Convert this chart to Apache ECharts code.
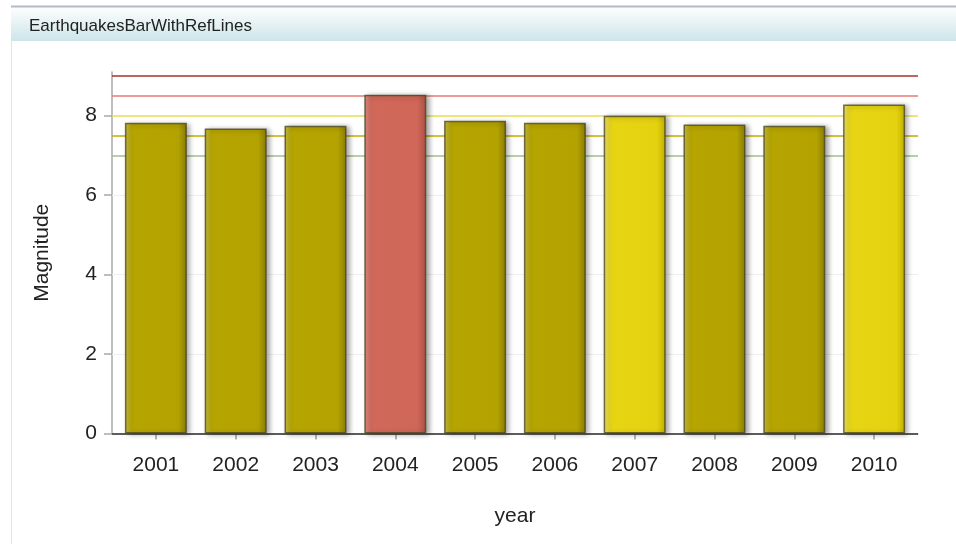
<!DOCTYPE html>
<html>
<head>
<meta charset="utf-8">
<script src="https://cdn.jsdelivr.net/npm/echarts@6/dist/echarts.min.js"></script>
<style>
html,body{margin:0;padding:0;background:#fff;}
#chart{width:956px;height:544px;}
</style>
</head>
<body>
<div id="chart"></div>
<script>
const titleText = 'EarthquakesBarWithRefLines';
const years = ['2001','2002','2003','2004','2005','2006','2007','2008','2009','2010'];
const magnitudes = [7.82, 7.68, 7.75, 8.53, 7.87, 7.82, 8.0, 7.78, 7.75, 8.28];
const yTicks = [0, 2, 4, 6, 8];
const refValues = [9, 8.5, 8, 7.5, 7];
const refColors = ['#a53232', '#e77b74', '#e9dc55', '#c2ae00', '#9fc08c'];
const yMin = 0, yMax = 9.1;

const FONT = "'Liberation Sans', Arial, sans-serif";

function grad(c0, c1, c2, c3) {
  return new echarts.graphic.LinearGradient(0, 0, 1, 0, [
    {offset: 0, color: c0}, {offset: 0.12, color: c1},
    {offset: 0.86, color: c2}, {offset: 1, color: c3}
  ]);
}
function barStyle(v) {
  let fill;
  if (v >= 8.5) fill = grad('#e28f82', '#d1695b', '#cf6658', '#ad5145');
  else if (v >= 8) fill = grad('#efe26a', '#e7d514', '#e4d210', '#c1b000');
  else fill = grad('#cbbe40', '#b6a500', '#b3a200', '#8a7d00');
  return {
    color: fill,
    borderColor: 'rgba(70,66,30,0.75)',
    borderWidth: 1.5,
    shadowColor: 'rgba(0,0,0,0.35)',
    shadowBlur: 5,
    shadowOffsetX: 3,
    shadowOffsetY: 1
  };
}

const chart = echarts.init(document.getElementById('chart'), null, {renderer: 'canvas'});
const option = {
  animation: false,
  backgroundColor: '#ffffff',
  textStyle: {fontFamily: FONT},
  graphic: [
    {type: 'rect', shape: {x: 11, y: 7, width: 945, height: 34}, silent: true,
     style: {fill: new echarts.graphic.LinearGradient(0, 0, 0, 1, [
       {offset: 0, color: '#fefefe'}, {offset: 1, color: '#cce5ea'}])}},
    {type: 'line', shape: {x1: 11, y1: 6.5, x2: 956, y2: 6.5}, silent: true,
     style: {stroke: '#b4b8cb', lineWidth: 2}},
    {type: 'line', shape: {x1: 11.5, y1: 41, x2: 11.5, y2: 544}, silent: true,
     style: {stroke: '#e6e6e6', lineWidth: 1}},
    {type: 'text', x: 29, y: 26, silent: true,
     style: {text: titleText, fill: '#222', font: '17px ' + FONT, verticalAlign: 'middle'}}
  ],
  grid: [
    {left: 116, right: 42, top: 72, bottom: 110.5, containLabel: false},
    {left: 112, right: 38, top: 72, bottom: 110.5, containLabel: false}
  ],
  xAxis: [
    {type: 'category', gridIndex: 0, data: years, offset: 4,
     axisLine: {show: false},
     axisTick: {show: true, alignWithLabel: true, length: 6, lineStyle: {color: '#a0a0a0', width: 1.5}},
     axisLabel: {color: '#222', fontSize: 21, margin: 17, fontFamily: FONT},
     name: 'year', nameLocation: 'middle', nameGap: 68,
     nameTextStyle: {color: '#222', fontSize: 21, fontFamily: FONT}},
    {type: 'value', gridIndex: 1, min: 0, max: 1, offset: 3,
     axisLine: {show: true, lineStyle: {color: '#b0b0b0', width: 1.5}},
     axisTick: {show: false}, axisLabel: {show: false}, splitLine: {show: false}}
  ],
  yAxis: [
    {type: 'value', gridIndex: 0, min: yMin, max: yMax, show: false, splitLine: {show: false}},
    {type: 'value', gridIndex: 1, min: yMin, max: yMax,
     axisLine: {show: true, lineStyle: {color: '#a8a8a8', width: 1.5}},
     axisTick: {show: true, length: 8, customValues: yTicks, lineStyle: {color: '#a8a8a8', width: 1.5}},
     axisLabel: {color: '#222', fontSize: 21, margin: 15, fontFamily: FONT, customValues: yTicks},
     splitLine: {show: false},
     name: 'Magnitude', nameLocation: 'middle', nameGap: 59,
     nameTextStyle: {color: '#222', fontSize: 21, fontFamily: FONT}}
  ],
  series: [
    {type: 'line', xAxisIndex: 1, yAxisIndex: 1, data: [], z: 1, silent: true,
     markLine: {silent: true, symbol: 'none', label: {show: false},
       data: yTicks.filter(t => t > 0 && t < 8).map(t => ({yAxis: t, lineStyle: {color: '#efefef', width: 1, type: 'solid'}}))}},
    {type: 'line', xAxisIndex: 1, yAxisIndex: 1, data: [], z: 2, silent: true,
     markLine: {silent: true, symbol: 'none', label: {show: false},
       data: refValues.map((v, i) => ({yAxis: v, lineStyle: {color: refColors[i], width: 1.6, type: 'solid'}}))}},
    {type: 'bar', xAxisIndex: 0, yAxisIndex: 0, z: 5, barWidth: 62,
     data: magnitudes.map(v => ({value: v, itemStyle: barStyle(v)}))},
    {type: 'line', xAxisIndex: 1, yAxisIndex: 1, data: [], z: 8, silent: true,
     markLine: {silent: true, symbol: 'none', label: {show: false},
       data: [{yAxis: 0, lineStyle: {color: '#3a3a3a', width: 1.5, type: 'solid'}}]}}
  ]
};
chart.setOption(option);
</script>
</body>
</html>
